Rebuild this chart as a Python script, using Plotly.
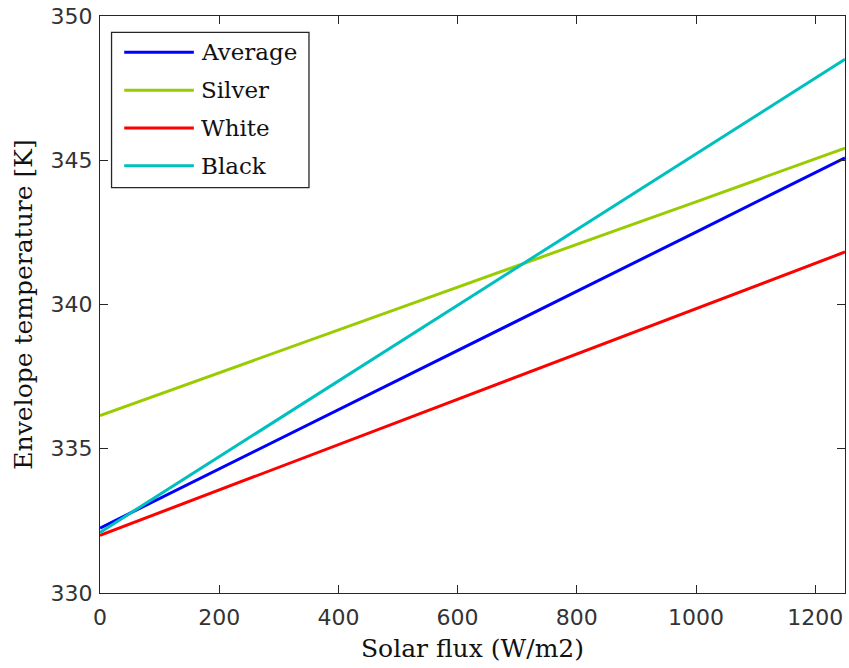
import plotly.graph_objects as go

# Solar flux samples (W/m2)
solar_flux = [0, 125, 250, 375, 500, 625, 750, 875, 1000, 1125, 1250]

# Envelope temperature (K) for each coating
temp_average = [332.25, 333.53, 334.82, 336.1, 337.38, 338.67, 339.95, 341.23, 342.51, 343.8, 345.08]
temp_silver = [336.15, 337.08, 338.0, 338.93, 339.86, 340.78, 341.71, 342.64, 343.56, 344.49, 345.42]
temp_white = [332.0, 332.98, 333.96, 334.95, 335.93, 336.91, 337.89, 338.87, 339.86, 340.84, 341.82]
temp_black = [332.1, 333.74, 335.38, 337.02, 338.66, 340.3, 341.94, 343.58, 345.22, 346.86, 348.5]

series_names = ["Average", "Silver", "White", "Black"]
series_values = [temp_average, temp_silver, temp_white, temp_black]
series_colors = ["#0000ff", "#99cc00", "#ff0000", "#00bfbf"]

x_ticks = [0, 200, 400, 600, 800, 1000, 1200]
y_ticks = [330, 335, 340, 345, 350]

SERIF = "DejaVu Serif"
SANS = "DejaVu Sans"

fig = go.Figure()
for name, vals, col in zip(series_names, series_values, series_colors):
    fig.add_trace(go.Scatter(x=solar_flux, y=vals, mode="lines", name=name,
                             line=dict(color=col, width=3), showlegend=False))

# Boxed legend in the upper-left corner of the axes
L_x0, L_x1, L_y0, L_y1 = 0.0155, 0.2805, 0.7025, 0.9715
fig.add_shape(type="rect", xref="paper", yref="paper", x0=L_x0, x1=L_x1, y0=L_y0, y1=L_y1,
              line=dict(color="#262626", width=1.3), fillcolor="white", layer="above")
row_top = 0.937
row_step = 0.0655
for i, (name, col) in enumerate(zip(series_names, series_colors)):
    yy = row_top - i * row_step
    fig.add_shape(type="line", xref="paper", yref="paper", x0=0.0325, x1=0.126, y0=yy, y1=yy,
                  line=dict(color=col, width=3), layer="above")
    fig.add_annotation(xref="paper", yref="paper", x=0.1335, y=yy, text=name, showarrow=False,
                       xanchor="left", yanchor="middle", font=dict(family=SERIF, size=23, color="#111"))

axis_common = dict(showgrid=False, zeroline=False, showline=True, linecolor="#262626", linewidth=1.3,
                   mirror="ticks", ticks="inside", ticklen=8, tickwidth=1.2, tickcolor="#262626",
                   tickfont=dict(family=SANS, size=22, color="#333"))

fig.update_xaxes(range=[0, 1250], tickvals=x_ticks, ticklabelstandoff=4,
                 title=dict(text="Solar flux (W/m2)", font=dict(family=SERIF, size=25, color="#111"), standoff=10),
                 **axis_common)
fig.update_yaxes(range=[330, 350], tickvals=y_ticks, ticklabelstandoff=2,
                 title=dict(text="Envelope temperature [K]", font=dict(family=SERIF, size=25, color="#111"), standoff=10),
                 **axis_common)

fig.update_layout(width=849, height=668, margin=dict(l=100, r=4, t=16, b=75),
                  plot_bgcolor="white", paper_bgcolor="white")

fig.write_html("out.html")
